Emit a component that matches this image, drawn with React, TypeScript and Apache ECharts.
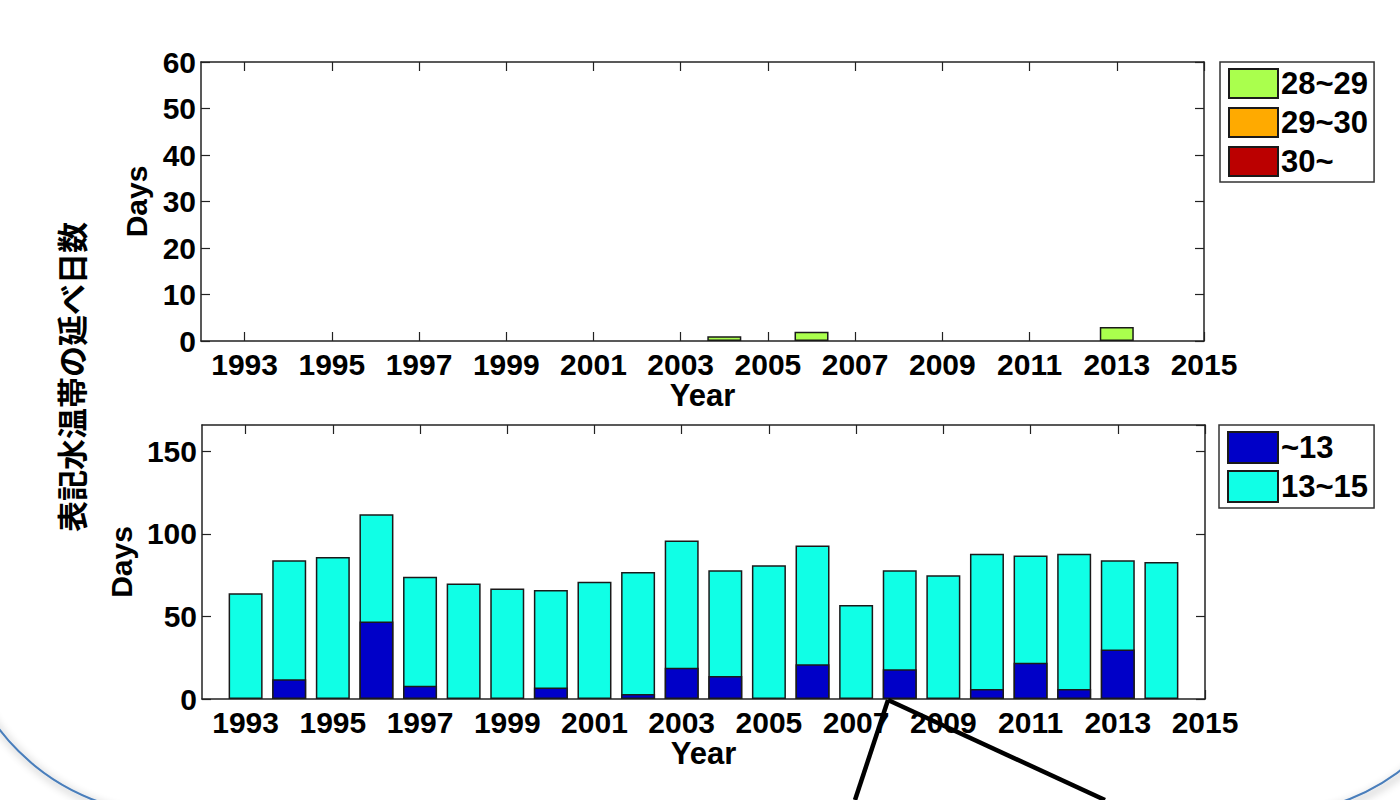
import React, { useEffect, useRef } from "react";
import * as echarts from "echarts";

const years = [1993, 1994, 1995, 1996, 1997, 1998, 1999, 2000, 2001, 2002, 2003, 2004, 2005, 2006, 2007, 2008, 2009, 2010, 2011, 2012, 2013, 2014];
const tickYears = [1993, 1995, 1997, 1999, 2001, 2003, 2005, 2007, 2009, 2011, 2013, 2015];

// upper panel: warm water bands (days)
const days28to29 = [0, 0, 0, 0, 0, 0, 0, 0, 0, 0, 0, 1, 0, 2, 0, 0, 0, 0, 0, 0, 3, 0];
const days29to30 = [0, 0, 0, 0, 0, 0, 0, 0, 0, 0, 0, 0, 0, 0, 0, 0, 0, 0, 0, 0, 0, 0];
const days30up = [0, 0, 0, 0, 0, 0, 0, 0, 0, 0, 0, 0, 0, 0, 0, 0, 0, 0, 0, 0, 0, 0];

// lower panel: cold water bands (days)
const daysUnder13 = [0, 12, 0, 47, 8, 0, 0, 7, 0, 3, 19, 14, 0, 21, 0, 18, 0, 6, 22, 6, 30, 0];
const days13to15 = [64, 72, 86, 65, 66, 70, 67, 59, 71, 74, 77, 64, 81, 72, 57, 60, 75, 82, 65, 82, 54, 83];

const FONT = "'Liberation Sans', Arial, sans-serif";
const TXT = { fontFamily: FONT, fontWeight: "bold" as const, fontSize: 30, color: "#000" };

// cumulative tops of stacked segments (segments drawn bottom-most last so they sit on top)
const cumulative = (layers: number[][]) =>
  layers.map((_, li) => years.map((_, i) => layers.slice(0, li + 1).reduce((s, l) => s + l[i], 0)));

const toPairs = (vals: number[], own: number[]) => vals.map((v, i) => [years[i], own[i] === 0 ? null : v]);

function xAxes(gridIndex: number) {
  const common = {
    type: "value" as const,
    gridIndex,
    min: 1992,
    max: 2015,
    splitLine: { show: false },
    axisLine: { show: true, onZero: false, lineStyle: { color: "#222", width: 1.5 } },
    axisTick: { show: true, inside: true, length: 9, customValues: tickYears, lineStyle: { color: "#222", width: 1.2 } },
  };
  return [
    {
      ...common,
      position: "bottom" as const,
      axisLabel: { ...TXT, margin: 8, customValues: tickYears, formatter: (v: number) => String(v) },
      name: "Year",
      nameLocation: "middle" as const,
      nameGap: 35,
      nameTextStyle: { ...TXT, fontSize: 31 },
    },
    { ...common, position: "top" as const, axisLabel: { show: false } },
  ];
}

function yAxes(gridIndex: number, max: number, interval: number, nameGap: number) {
  const common = {
    type: "value" as const,
    gridIndex,
    min: 0,
    max,
    interval,
    splitLine: { show: false },
    axisLine: { show: true, lineStyle: { color: "#222", width: 1.5 } },
    axisTick: { show: true, inside: true, length: 9, lineStyle: { color: "#222", width: 1.2 } },
  };
  return [
    {
      ...common,
      position: "left" as const,
      axisLabel: { ...TXT, margin: 5, showMaxLabel: max % interval === 0 },
      name: "Days",
      nameLocation: "middle" as const,
      nameGap,
      nameRotate: 90,
      nameTextStyle: { ...TXT, fontSize: 30 },
    },
    { ...common, position: "right" as const, axisLabel: { show: false } },
  ];
}

const border = { borderColor: "#1a1a1a", borderWidth: 1.5 };
const barBase = { type: "bar" as const, barWidth: 34, barGap: "-100%" };

const hotLayers = [days28to29, days29to30, days30up];
const hotNames = ["28~29", "29~30", "30~"];
const hotColors = ["#aaff4d", "#ffaa00", "#bb0000"];
const coldLayers = [daysUnder13, days13to15];
const coldNames = ["~13", "13~15"];
const coldColors = ["#0000c8", "#10ffe6"];

function layerSeries(layers: number[][], names: string[], colors: string[], axis: number) {
  const tops = cumulative(layers);
  // draw top-most layers first so lower segments paint over them
  return layers
    .map((l, li) => ({
      ...barBase,
      name: names[li],
      xAxisIndex: axis,
      yAxisIndex: axis,
      z: 2 + (layers.length - li),
      data: toPairs(tops[li], l),
      itemStyle: { ...border, color: colors[li] },
    }))
    .reverse();
}

export default function App() {
  const ref = useRef<HTMLDivElement>(null);
  useEffect(() => {
    if (!ref.current) return;
    const chart = echarts.init(ref.current, undefined, { renderer: "svg" });
    const legendCommon = {
      orient: "vertical" as const,
      icon: "rect",
      padding: [6, 6, 5, 8],
      borderColor: "#333",
      borderWidth: 1.5,
      backgroundColor: "#fff",
      selectedMode: false,
      textStyle: { ...TXT, fontSize: 31, padding: [0, 0, 0, -2] },
    };
    chart.setOption({
      animation: false,
      backgroundColor: "#ffffff",
      grid: [
        { left: 201, top: 62, width: 1003, height: 279 },
        { left: 202, top: 425, width: 1003, height: 274 },
      ],
      xAxis: [...xAxes(0), ...xAxes(1)],
      yAxis: [...yAxes(0, 60, 10, 46), ...yAxes(1, 166, 50, 66)],
      legend: [
        { ...legendCommon, data: hotNames, left: 1220, top: 62, itemWidth: 49, itemHeight: 29, itemGap: 8 },
        { ...legendCommon, data: coldNames, left: 1219, top: 425, itemWidth: 50, itemHeight: 31, itemGap: 6 },
      ],
      series: [
        ...layerSeries(hotLayers, hotNames, hotColors, 0),
        ...layerSeries(coldLayers, coldNames, coldColors, 2),
      ],
      graphic: [
        {
          type: "rect",
          z: -10,
          silent: true,
          shape: { x: -44, y: -400, width: 1529, height: 1214, r: 214 },
          style: { fill: "none", stroke: "#4a7ebb", lineWidth: 2, shadowBlur: 8, shadowColor: "rgba(0,0,0,0.45)", shadowOffsetX: 2, shadowOffsetY: 3 },
        },
        {
          type: "text",
          x: 70,
          y: 377,
          rotation: Math.PI / 2,
          z: 10,
          style: {
            text: "表記水温帯の延べ日数",
            font: "bold 31px 'Noto Sans CJK JP'",
            fill: "#000",
            align: "center",
            verticalAlign: "middle",
          },
        },
        { type: "line", z: 20, shape: { x1: 888, y1: 700, x2: 855, y2: 800 }, style: { stroke: "#000", lineWidth: 4.5 } },
        { type: "line", z: 20, shape: { x1: 888, y1: 700, x2: 1105, y2: 800 }, style: { stroke: "#000", lineWidth: 4.5 } },
      ],
    });
    return () => chart.dispose();
  }, []);
  return <div ref={ref} style={{ position: "fixed", left: 0, top: 0, width: 1400, height: 800 }} />;
}
